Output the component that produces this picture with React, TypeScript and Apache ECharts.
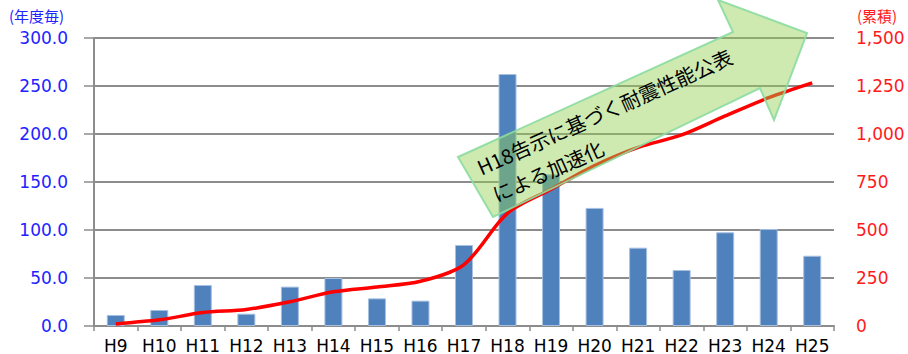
import React, { useEffect, useRef } from "react";
import * as echarts from "echarts";

const categories = ["H9", "H10", "H11", "H12", "H13", "H14", "H15", "H16", "H17", "H18", "H19", "H20", "H21", "H22", "H23", "H24", "H25"];
const yearlyValues = [11.5, 16.7, 42.7, 12.8, 41.0, 50.0, 28.8, 26.4, 84.4, 262.5, 158, 123, 81.6, 58.3, 97.6, 101, 73.2];
const cumulativeValues = [11, 32, 70, 86, 126, 178, 203, 233, 320, 588, 712, 835, 930, 995, 1094, 1189, 1266];
const leftAxisTitle = "(年度毎)";
const rightAxisTitle = "(累積)";
const arrowLine1 = "H18告示に基づく耐震性能公表";
const arrowLine2 = "による加速化";

const LABEL_FONT = "'DejaVu Sans', sans-serif";
const JP_FONT = "'Noto Sans CJK JP', sans-serif";

export default function App() {
  const ref = useRef<HTMLDivElement>(null);
  useEffect(() => {
    if (!ref.current) return;
    const chart = echarts.init(ref.current, null, { renderer: "svg" });
    chart.setOption({
      animation: false,
      backgroundColor: "#ffffff",
      grid: { left: 94, right: 74, top: 38, bottom: 28, containLabel: false },
      xAxis: {
        type: "category",
        data: categories,
        axisLine: { lineStyle: { color: "#8c8c8c", width: 2 } },
        axisTick: { show: true, length: 5, lineStyle: { color: "#8c8c8c", width: 1.5 } },
        axisLabel: { color: "#000", fontSize: 17, fontFamily: LABEL_FONT, margin: 11, interval: 0 },
      },
      yAxis: [
        {
          type: "value",
          min: 0,
          max: 300,
          interval: 50,
          position: "left",
          axisLine: { show: true, lineStyle: { color: "#8c8c8c", width: 2 } },
          axisTick: { show: true, length: 10, lineStyle: { color: "#8c8c8c", width: 1.5 } },
          splitLine: { show: true, lineStyle: { color: "#8c8c8c", width: 2 } },
          axisLabel: {
            color: "#2222ff",
            fontSize: 17,
            fontFamily: LABEL_FONT,
            margin: 26,
            formatter: (v: number) => v.toFixed(1),
          },
        },
        {
          type: "value",
          min: 0,
          max: 1500,
          interval: 250,
          position: "right",
          axisLine: { show: false },
          axisTick: { show: false },
          splitLine: { show: false },
          axisLabel: {
            color: "#ff1a1a",
            fontSize: 17,
            fontFamily: LABEL_FONT,
            margin: 22,
            formatter: (v: number) => v.toLocaleString("en-US"),
          },
        },
      ],
      series: [
        {
          type: "bar",
          data: yearlyValues,
          yAxisIndex: 0,
          barWidth: 18,
          itemStyle: { color: "#4f81bd", borderColor: "#a7c0e0", borderWidth: 1 },
          z: 2,
        },
        {
          type: "line",
          data: cumulativeValues,
          yAxisIndex: 1,
          smooth: 0.3,
          symbol: "none",
          lineStyle: { color: "#ff0000", width: 3.5 },
          z: 3,
        },
      ],
      graphic: [
        {
          type: "text",
          left: 9,
          top: 8,
          style: { text: leftAxisTitle, fill: "#2222ff", font: `15px ${JP_FONT}` },
        },
        {
          type: "text",
          left: 857,
          top: 8,
          style: { text: rightAxisTitle, fill: "#ff1a1a", font: `15px ${JP_FONT}` },
        },
        {
          type: "polygon",
          z: 100,
          shape: {
            points: [
              [458, 157],
              [733, 32],
              [718, 0],
              [807, 33],
              [774, 120],
              [760, 88],
              [493, 217],
            ],
          },
          style: { fill: "rgba(146,208,80,0.45)", stroke: "rgba(140,220,160,0.9)", lineWidth: 2 },
        },
        {
          type: "group",
          x: 478,
          y: 168,
          rotation: 0.42,
          z: 101,
          children: [
            {
              type: "text",
              x: 0,
              y: 0,
              z: 101,
              style: { text: arrowLine1, fill: "#000", font: `20px ${JP_FONT}`, verticalAlign: "middle", align: "left" },
            },
            {
              type: "text",
              x: 3,
              y: 31,
              z: 101,
              style: { text: arrowLine2, fill: "#000", font: `20px ${JP_FONT}`, verticalAlign: "middle", align: "left" },
            },
          ],
        },
      ],
    });
    return () => chart.dispose();
  }, []);
  return <div ref={ref} style={{ width: 908, height: 354, position: "absolute", left: 0, top: 0 }} />;
}
